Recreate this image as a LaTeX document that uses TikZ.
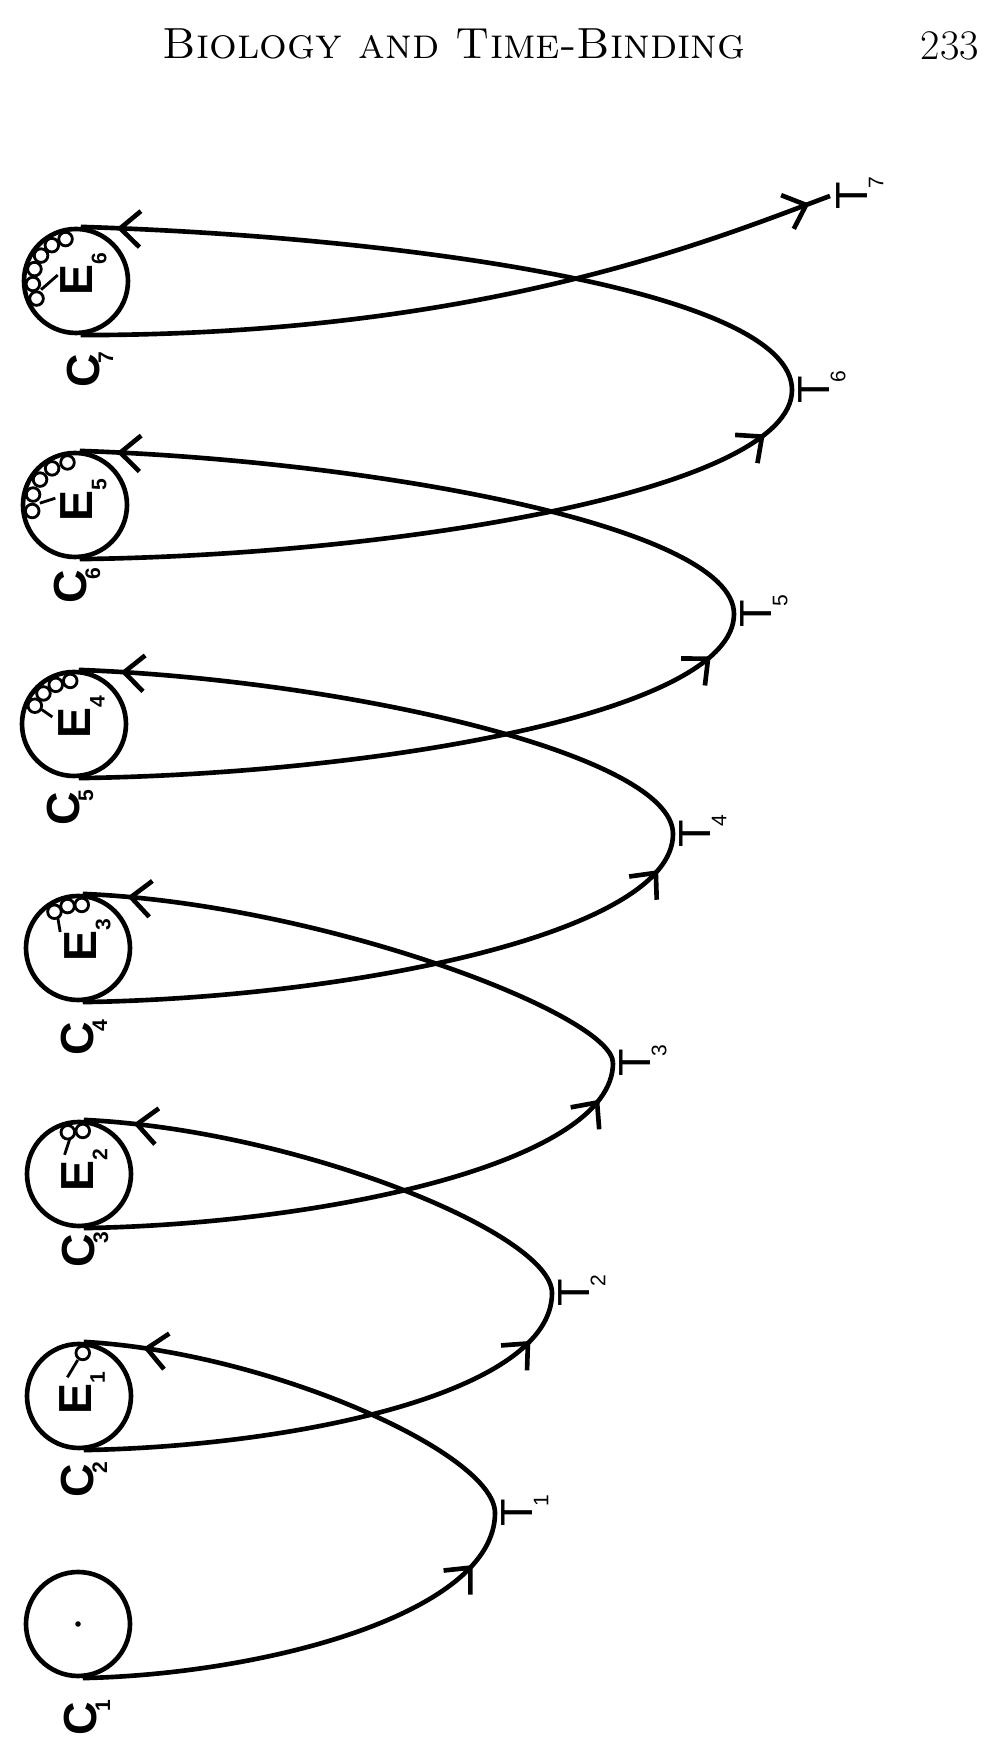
\documentclass[tikz,border=0pt]{standalone}
\usepackage{fontspec}
\newfontfamily\labfont{Liberation Sans}
\usetikzlibrary{arrows.meta,decorations.markings}
\newcommand\lowsub[1]{\raisebox{-0.3em}{\fontsize{15}{15}\selectfont #1}}
\newcommand\csub[1]{\kern-0.2em\lowsub{#1}}
\newcommand\tsub[1]{\rlap{\kern-0.15em\raisebox{-0.36em}{\fontsize{15}{15}\selectfont #1}}}
\tikzset{
  ring/.style={circle,draw,line width=3.3pt,minimum size=2.6cm,inner sep=0pt},
  path line/.style={line width=3.3pt},
  arrow at/.style={postaction={decorate},decoration={markings,
      mark=at position #1 with {\arrow{Straight Barb[length=5mm,width=9mm]}}}},
  clabel/.style={rotate=90,inner sep=0pt,font=\labfont\bfseries\fontsize{33}{33}\selectfont},
  tlabel/.style={rotate=90,inner sep=0.15cm,anchor=north,font=\labfont\fontsize{32}{32}\selectfont},
  bead/.style={line width=2pt}
}
\begin{document}
\begin{tikzpicture}
\useasboundingbox (0,0) rectangle (24.975,43.95);
\node (head) at (11.35,42.85) {\fontsize{31}{34}\selectfont\textsc{Biology and Time-Binding}};
\node (page) at (23.75,42.8) {\fontsize{30}{34}\selectfont 233};
% cells
\node[ring] (c1) at (1.95,3.35) {};
\node[ring] (c2) at (1.975,9.05) {};
\node[ring] (c3) at (1.975,14.6) {};
\node[ring] (c4) at (1.95,20.25) {};
\node[ring] (c5) at (1.85,25.85) {};
\node[ring] (c6) at (1.875,31.325) {};
\node[ring] (c7) at (1.9,36.925) {};
\fill (c1) circle (0.07);
\node[clabel] (lc1) at (2.175,1.0) {C\csub{1}};
\node[clabel] (lc2) at (2.1,6.95) {C\csub{2}};
\node[clabel] (lc3) at (2.125,12.7) {C\csub{3}};
\node[clabel] (lc4) at (2.1,18.0) {C\csub{4}};
\node[clabel] (lc5) at (1.75,23.75) {C\csub{5}};
\node[clabel] (lc6) at (1.925,29.3) {C\csub{6}};
\node[clabel] (lc7) at (2.25,34.7) {C\csub{7}};
\node[clabel] (e1) at (2.05,9.125) {E\lowsub{1}};
\node[clabel] (e2) at (2.11,14.7) {E\lowsub{2}};
\node[clabel] (e3) at (2.19,20.45) {E\lowsub{3}};
\node[clabel] (e4) at (2.04,26.01) {E\lowsub{4}};
\node[clabel] (e5) at (2.09,31.45) {E\lowsub{5}};
\node[clabel] (e6) at (2.09,37.1) {E\lowsub{6}};
% engrams
\foreach \a in {85} \draw[bead] (c2) ++(\a:1.08) circle (0.17);
\foreach \a in {85,105} \draw[bead] (c3) ++(\a:1.08) circle (0.17);
\foreach \a in {85,104,123} \draw[bead] (c4) ++(\a:1.08) circle (0.17);
\foreach \a in {95,115,135,155} \draw[bead] (c5) ++(\a:1.08) circle (0.17);
\foreach \a in {100,122,144,166,188} \draw[bead] (c6) ++(\a:1.08) circle (0.17);
\foreach \a in {104,124,144,164,184,204} \draw[bead] (c7) ++(\a:1.08) circle (0.17);
\draw[bead] (c2) +(92:0.9) -- +(122:0.55);
\draw[bead] (c3) +(105:0.9) -- +(127:0.6);
\draw[bead] (c4) +(124:0.9) -- +(138:0.6);
\draw[bead] (c5) +(156:0.88) -- +(162:0.57);
\draw[bead] (c6) +(177:0.88) -- +(161:0.52);
\draw[bead] (c7) +(194:0.9) -- +(162:0.48);
% turning points
\node[tlabel] (t1) at (12.375,6.125) {T\tsub{1}};
\node[tlabel] (t2) at (13.8,11.625) {T\tsub{2}};
\node[tlabel] (t3) at (15.325,17.375) {T\tsub{3}};
\node[tlabel] (t4) at (16.825,23.1) {T\tsub{4}};
\node[tlabel] (t5) at (18.35,28.6) {T\tsub{5}};
\node[tlabel] (t6) at (19.8,34.2) {T\tsub{6}};
\node[tlabel] (t7) at (20.75,39.05) {T\tsub{7}};
% the spiral
\draw[path line,arrow at=-1.45cm] (c1.-85) .. controls +(4.6,0.1) and +(0,-2.5) .. (t1.north);
\draw[path line,arrow at=-1.5cm] (t1.north) .. controls +(0,1.5) and +(4.6,-0.25) .. (c2.85);
\draw[path line,arrow at=-1.35cm] (c2.-85) .. controls +(5.3,0.1) and +(0,-2.5) .. (t2.north);
\draw[path line,arrow at=-1.25cm] (t2.north) .. controls +(0,1.5) and +(5.3,-0.25) .. (c3.85);
\draw[path line,arrow at=-1.0cm] (c3.-85) .. controls +(6.0,0.1) and +(0,-2.5) .. (t3.north);
\draw[path line,arrow at=-1.12cm] (t3.north) .. controls +(0,1.2) and +(6.0,-0.25) .. (c4.85);
\draw[path line,arrow at=-1.0cm] (c4.-85) .. controls +(6.6,0.1) and +(0,-2.5) .. (t4.north);
\draw[path line,arrow at=-1.05cm] (t4.north) .. controls +(0,2.0) and +(6.6,-0.25) .. (c5.85);
\draw[path line,arrow at=-1.25cm] (c5.-85) .. controls +(7.3,0.1) and +(0,-2.5) .. (t5.north);
\draw[path line,arrow at=-0.93cm] (t5.north) .. controls +(0,2.2) and +(7.3,-0.25) .. (c6.85);
\draw[path line,arrow at=-1.35cm] (c6.-85) .. controls +(8.0,0.1) and +(0,-2.5) .. (t6.north);
\draw[path line,arrow at=-0.9cm] (t6.north) .. controls +(0,2.5) and +(8.0,-0.25) .. (c7.85);
\draw[path line,arrow at=-0.55cm] (c7.-85) .. controls +(10,0) and +(-3,-1.12) .. (t7.north);
\end{tikzpicture}
\end{document}
